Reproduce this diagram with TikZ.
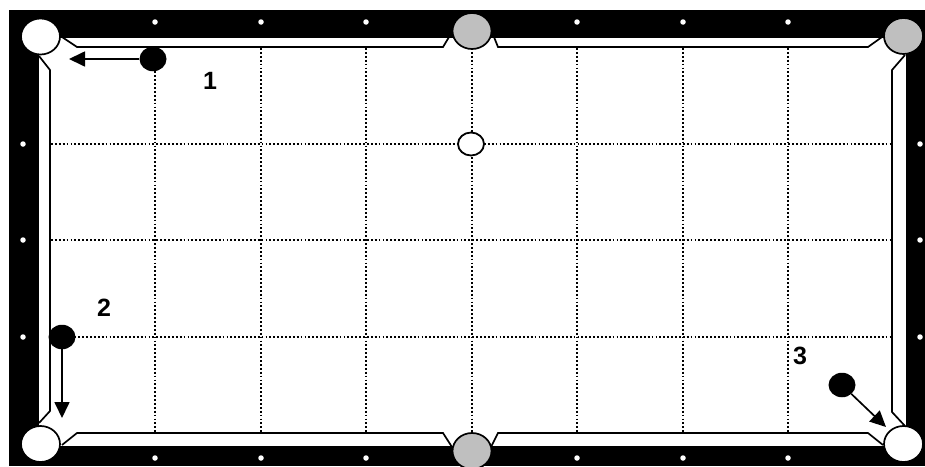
\documentclass[tikz,border=0pt]{standalone}
\usepackage{fontspec}
\setmainfont{Liberation Sans}
\usetikzlibrary{arrows.meta,shapes.geometric}
\tikzset{
  x=1pt,y=-1pt,
  cushion/.style={line width=1.7pt,line join=miter},
  gridline/.style={line width=1.7pt,dash pattern=on 1.8pt off 2.1pt},
  pocket/.style={ellipse,draw=black,line width=1.7pt,minimum width=39pt,minimum height=36pt,inner sep=0pt},
  whitepocket/.style={pocket,fill=white},
  greypocket/.style={pocket,fill=black!25},
  marker/.style={circle,fill=white,minimum size=5.5pt,inner sep=0pt},
  ballnode/.style={ellipse,fill=black,minimum width=27pt,minimum height=24.5pt,inner sep=0pt},
  cueball/.style={ellipse,draw=black,fill=white,line width=1.8pt,minimum width=26pt,minimum height=23pt,inner sep=0pt},
  shot/.style={line width=1.7pt,-{Triangle[length=16pt,width=15pt]},shorten >=0pt},
  lab/.style={font=\fontsize{25}{28}\selectfont\bfseries,inner sep=0pt}
}
\begin{document}
\begin{tikzpicture}
\useasboundingbox (0,0) rectangle (925,466);
\fill[white] (0,0) rectangle (925,466);
\fill[black] (9,10) rectangle (925,466);
\fill[white] (39,38) rectangle (906,446);
% cushions
\draw[cushion] (62,37) -- (77,47) -- (443,47) -- (449,37);
\draw[cushion] (494,37) -- (498,47) -- (868,47) -- (882,37);
\draw[cushion] (905,55) -- (892,70) -- (892,412) -- (905,426);
\draw[cushion] (883,445) -- (868,433) -- (498,433) -- (491,447);
\draw[cushion] (452,447) -- (443,433) -- (77,433) -- (62,445);
\draw[cushion] (39,423) -- (50,411) -- (50,70) -- (39,56);
% grid
\foreach \gx in {155,261,366,472,577,683,788}
  \draw[gridline] (\gx,48) -- (\gx,432);
\foreach \gy in {144,240,337}
  \draw[gridline] (51,\gy) -- (891,\gy);
% rail markers
\foreach \gx [count=\i] in {155,261,366,577,683,788} {
  \node[marker] (mt\i) at (\gx,22) {};
  \node[marker] (mb\i) at (\gx,458) {};
}
\foreach \gy [count=\i] in {144,240,337} {
  \node[marker] (ml\i) at (23,\gy) {};
  \node[marker] (mr\i) at (920,\gy) {};
}
% pockets
\node[whitepocket] (ptl) at (40.5,36.5) {};
\node[greypocket] (ptm) at (472,31) {};
\node[greypocket] (ptr) at (903.5,36) {};
\node[whitepocket] (pbl) at (40.5,444) {};
\begin{scope}
\clip (0,0) rectangle (925,466);
\node[greypocket] (pbm) at (472,451) {};
\end{scope}
\node[whitepocket] (pbr) at (903.5,444) {};
% balls
\node[cueball] (cue) at (471,144) {};
\node[ballnode] (b1) at (153,59) {};
\node[ballnode] (b2) at (62,337) {};
\node[ballnode] (b3) at (842,385) {};
\coordinate (t1) at (69,59);
\coordinate (t2) at (62,418);
\coordinate (t3) at (886,427);
\draw[shot] (b1) -- (t1);
\draw[shot] (b2) -- (t2);
\draw[shot] (b3) -- (t3);
\node[lab] (l1) at (210,81) {1};
\node[lab] (l2) at (104,308) {2};
\node[lab] (l3) at (800,356) {3};
\end{tikzpicture}
\end{document}
